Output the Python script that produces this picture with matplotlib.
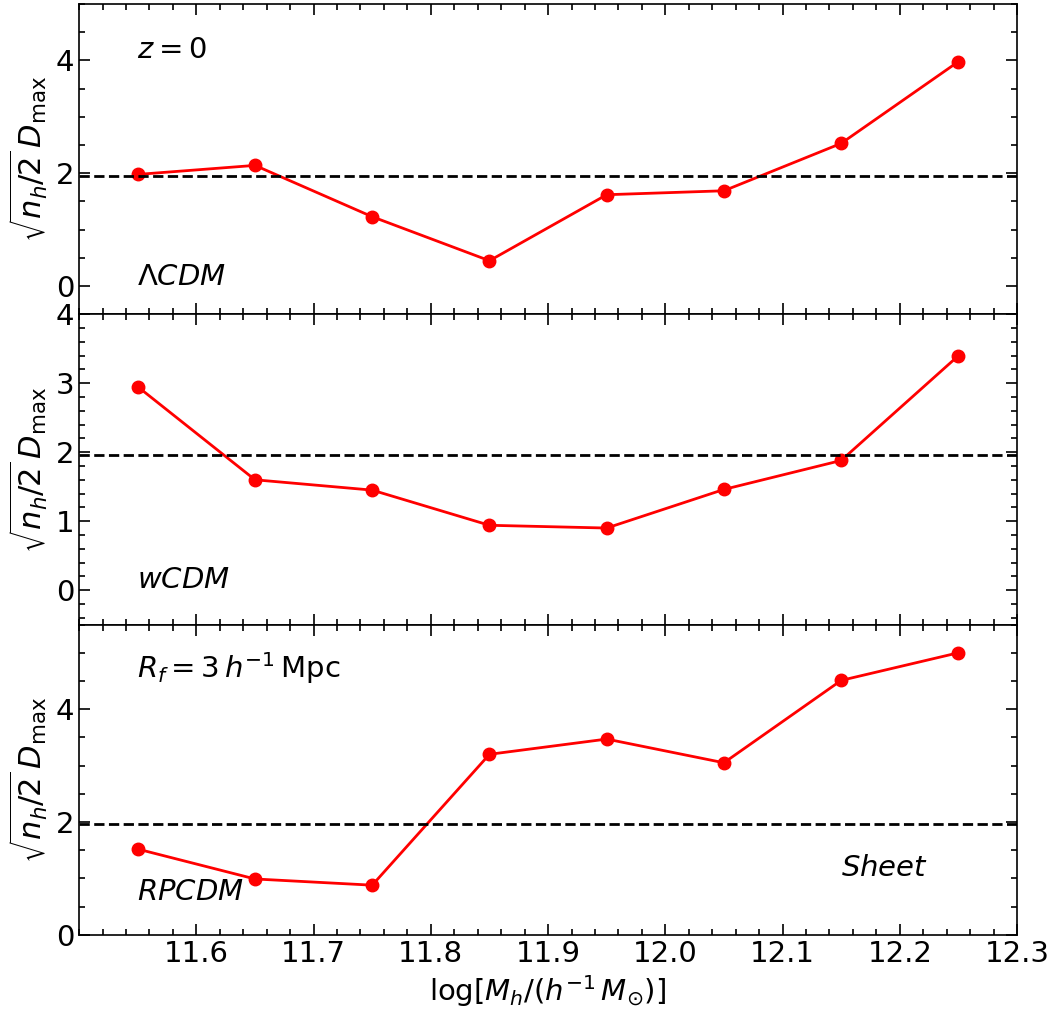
import matplotlib
matplotlib.use('Agg')
import matplotlib.pyplot as plt
from matplotlib.ticker import AutoMinorLocator, MultipleLocator

# halo mass bins
logM = [11.55, 11.65, 11.75, 11.85, 11.95, 12.05, 12.15, 12.25]

# significance per model
sig_lcdm = [1.98, 2.14, 1.23, 0.45, 1.62, 1.69, 2.53, 3.98]
sig_wcdm = [2.95, 1.60, 1.45, 0.94, 0.90, 1.46, 1.88, 3.40]
sig_rpcdm = [1.52, 0.99, 0.88, 3.20, 3.47, 3.05, 4.51, 5.00]

models = [r'$\Lambda CDM$', r'$wCDM$', r'$RPCDM$']
threshold = 1.96

plt.rcParams['font.size'] = 21
plt.rcParams['mathtext.fontset'] = 'dejavusans'

fig, axs = plt.subplots(3, 1, figsize=(10.55, 10.15), dpi=100, sharex=True)
fig.subplots_adjust(left=0.075, right=0.964, top=0.996, bottom=0.079, hspace=0)

data = [sig_lcdm, sig_wcdm, sig_rpcdm]
ylims = [(-0.5, 5), (-0.5, 4), (0, 5.5)]
ymaj = [2, 1, 2]
label_y = [0.119, 0.145, 0.139]

for i, ax in enumerate(axs):
    ax.plot(logM, data[i], '-o', color='red', lw=2, ms=9)
    ax.axhline(threshold, color='black', ls='--', lw=2)
    ax.set_ylim(ylims[i])
    ax.set_xlim(11.5, 12.3)
    ax.yaxis.set_major_locator(MultipleLocator(ymaj[i]))
    ax.xaxis.set_major_locator(MultipleLocator(0.1))
    ax.xaxis.set_minor_locator(AutoMinorLocator(5))
    ax.yaxis.set_minor_locator(AutoMinorLocator())
    ax.tick_params(which='both', direction='in', top=True, right=True, width=1.2)
    ax.tick_params(which='major', length=8)
    ax.tick_params(which='minor', length=4.5)
    for s in ax.spines.values():
        s.set_linewidth(1.2)
    ax.set_ylabel(r'$\sqrt{n_h/2}\,D_{\rm max}$', fontsize=22, labelpad=4)
    ax.text(0.062, label_y[i], models[i], transform=ax.transAxes, va='center')

axs[0].text(0.062, 0.852, r'$z=0$', transform=axs[0].transAxes, va='center')
axs[2].text(0.062, 0.861, r'$R_f=3\,h^{-1}\,\mathrm{Mpc}$', transform=axs[2].transAxes, va='center')
axs[2].text(0.812, 0.216, r'$Sheet$', transform=axs[2].transAxes, va='center')

xt = [11.6, 11.7, 11.8, 11.9, 12.0, 12.1, 12.2, 12.3]
axs[2].set_xticks(xt)
axs[2].set_xticklabels(['%.1f' % v for v in xt])
axs[2].set_xlabel(r'$\log[M_h/(h^{-1}\,M_{\odot})]$')

fig.savefig('out.png')
